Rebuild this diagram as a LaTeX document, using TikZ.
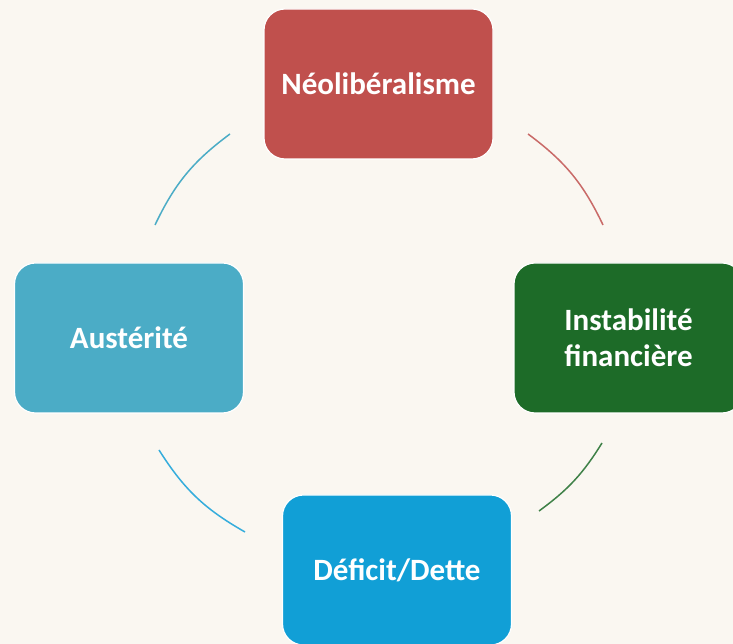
\documentclass[tikz,border=0pt]{standalone}
\usepackage{fontspec}
\setmainfont{Carlito}
\definecolor{bgcream}{HTML}{FAF7F1}
\definecolor{neored}{HTML}{C0504D}
\definecolor{instgreen}{HTML}{1D6B28}
\definecolor{defblue}{HTML}{119FD6}
\definecolor{austeal}{HTML}{4BACC6}
\tikzset{
  cyclebox/.style={draw=white, line width=1.2pt, rounded corners=21pt,
    minimum width=229pt, minimum height=150pt, inner sep=0pt,
    align=center, text=white, font=\bfseries\fontsize{31}{36}\selectfont},
  cyclearc/.style={line width=1.5pt, bend left=14}
}
\begin{document}
\begin{tikzpicture}[x=1pt,y=1pt]
  \fill[bgcream] (0,0) rectangle (733,644);
  \clip (0,0) rectangle (733,644);
  \useasboundingbox (0,0) rectangle (733,644);

  % the four stages of the cycle
  \node[cyclebox, fill=neored]    (neo)  at (378.5,560) {Néolibéralisme};
  \node[cyclebox, fill=instgreen] (inst) at (628.5,306) {Instabilité\\financière};
  \node[cyclebox, fill=defblue]   (def)  at (397,74)    {Déficit/Dette};
  \node[cyclebox, fill=austeal]   (aus)  at (129,306)   {Austérité};

  % ends of the arcs between the stages
  \coordinate (r1) at (528,510); \coordinate (r2) at (603,419);
  \coordinate (g1) at (602,201); \coordinate (g2) at (539,133);
  \coordinate (b1) at (245,112); \coordinate (b2) at (159,194);
  \coordinate (t1) at (155,419); \coordinate (t2) at (230,510);

  \draw[cyclearc, draw=neored!85!white]  (r1) to (r2);
  \draw[cyclearc, draw=instgreen!85!white, bend left=11] (g1) to (g2);
  \draw[cyclearc, draw=defblue!85!white]  (b1) to (b2);
  \draw[cyclearc, draw=austeal]  (t1) to (t2);
\end{tikzpicture}
\end{document}
